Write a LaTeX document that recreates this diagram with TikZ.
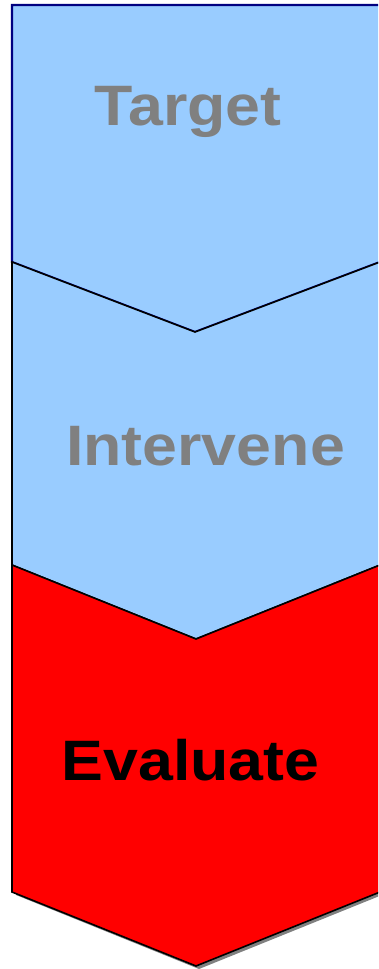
\documentclass[tikz,border=0pt]{standalone}
\usepackage{fontspec}
\setmainfont{Liberation Sans}
\definecolor{lightblue}{HTML}{99CCFF}
\definecolor{navyline}{HTML}{000080}
\definecolor{labelgray}{HTML}{808080}
\definecolor{shadowgray}{HTML}{808080}
\begin{document}
\begin{tikzpicture}[x=1pt,y=-1pt,
  chev/.style={line width=1.6pt, line join=miter},
  lbl/.style={font=\bfseries\fontsize{57}{57}\selectfont, anchor=base, xscale=1.1, inner sep=0pt}]
\useasboundingbox (0,0) rectangle (378,969);
\clip (0,0) rectangle (378,969);
% shadow of the bottom chevron
\fill[shadowgray] (16,568) -- (199,642) -- (382,568) -- (382,895) -- (199,969) -- (16,895) -- cycle;
% first chevron
\filldraw[chev, fill=lightblue, draw=navyline, line width=2.2pt]
  (12,5) -- (380,5) -- (380,262) -- (195,332) -- (12,262) -- cycle;
% second chevron
\filldraw[chev, fill=lightblue, draw=black]
  (12,262) -- (195,332) -- (380,262) -- (380,565) -- (196,639) -- (12,565) -- cycle;
% third chevron
\filldraw[chev, fill=red, draw=black]
  (12,565) -- (196,639) -- (380,565) -- (380,892) -- (196,966) -- (12,892) -- cycle;
\node[lbl, text=labelgray] (target) at (188,125) {Target};
\node[lbl, text=labelgray] (intervene) at (205.5,465) {Intervene};
\node[lbl, text=black] (evaluate) at (190.5,780) {Evaluate};
\end{tikzpicture}
\end{document}
